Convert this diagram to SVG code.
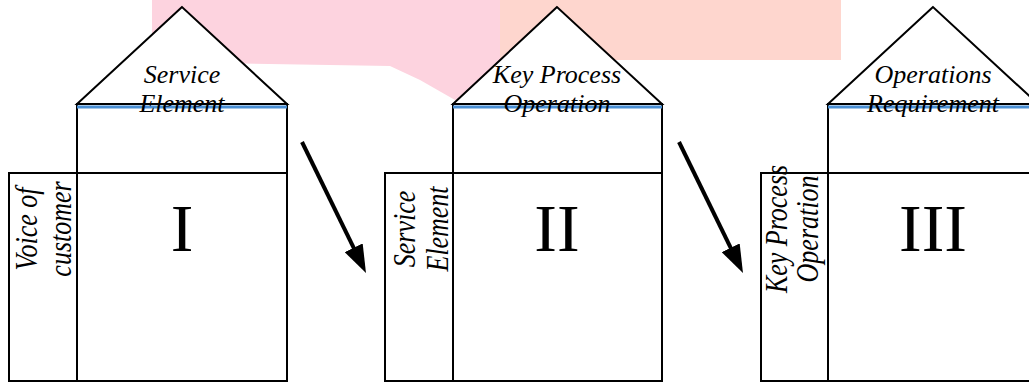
<svg xmlns="http://www.w3.org/2000/svg" width="1029" height="383" viewBox="0 0 1029 383">
<style>
.ln{fill:#fff;stroke:#000;stroke-width:2}
.blue{stroke:#4a8fd4;stroke-width:3}
.roof{font-family:"Liberation Serif","Times New Roman",serif;font-style:italic;font-size:26px;text-anchor:middle;fill:#000}
.num{font-family:"Liberation Serif","Times New Roman",serif;font-size:68px;text-anchor:middle;fill:#000}
.arrow{stroke:#000;stroke-width:4;fill:none}
</style>
<defs>
<marker id="ah" viewBox="0 0 28 20" refX="13" refY="10" markerWidth="28" markerHeight="20" markerUnits="userSpaceOnUse" orient="auto">
<path d="M0,0 L28,10 L0,20 z" fill="#000"/>
</marker>
</defs>
<rect width="1029" height="383" fill="#fff"/>
<g id="background">
<polygon points="152,0 500,0 500,100 455,100 420,80 390,66 152,62" fill="#fdd3df"/>
<rect x="500" y="0" width="341" height="60" fill="#fed6ce"/>
</g>
<g id="house1">
<polygon class="ln" points="182,7 77,104 287,104"/>
<rect class="ln" x="77" y="104" width="210" height="69"/>
<rect class="ln" x="77" y="173" width="210" height="208"/>
<rect class="ln" x="9" y="173" width="68" height="208"/>
<line class="blue" x1="77" y1="107" x2="287" y2="107"/>
<text class="roof" x="182" y="83">Service</text>
<text class="roof" x="182" y="112">Element</text>
<text class="num" x="182" y="251">I</text>
<text class="roof" transform="translate(37,229) rotate(-90) scale(1,1.25)">Voice of</text>
<text class="roof" transform="translate(71,229) rotate(-90) scale(1,1.25)">customer</text>
</g>
<g id="house2">
<polygon class="ln" points="557,7 453,104 662,104"/>
<rect class="ln" x="453" y="104" width="209" height="69"/>
<rect class="ln" x="453" y="173" width="209" height="208"/>
<rect class="ln" x="385" y="173" width="68" height="208"/>
<line class="blue" x1="453" y1="107" x2="662" y2="107"/>
<text class="roof" x="557" y="83">Key Process</text>
<text class="roof" x="557" y="112">Operation</text>
<text class="num" x="557" y="251">II</text>
<text class="roof" transform="translate(415,229) rotate(-90) scale(1,1.25)">Service</text>
<text class="roof" transform="translate(448,229) rotate(-90) scale(1,1.25)">Element</text>
</g>
<g id="house3">
<polygon class="ln" points="933,7 828,104 1038,104"/>
<rect class="ln" x="828" y="104" width="210" height="69"/>
<rect class="ln" x="828" y="173" width="210" height="208"/>
<rect class="ln" x="761" y="173" width="67" height="208"/>
<line class="blue" x1="828" y1="107" x2="1038" y2="107"/>
<text class="roof" x="933" y="83">Operations</text>
<text class="roof" x="933" y="112">Requirement</text>
<text class="num" x="933" y="251">III</text>
<text class="roof" transform="translate(787,229) rotate(-90) scale(1,1.25)">Key Process</text>
<text class="roof" transform="translate(818,229) rotate(-90) scale(1,1.25)">Operation</text>
</g>
<g id="connectors">
<line class="arrow" x1="302" y1="142" x2="359.4" y2="259.5" marker-end="url(#ah)"/>
<line class="arrow" x1="679" y1="142" x2="736.4" y2="259.5" marker-end="url(#ah)"/>
</g>
</svg>
